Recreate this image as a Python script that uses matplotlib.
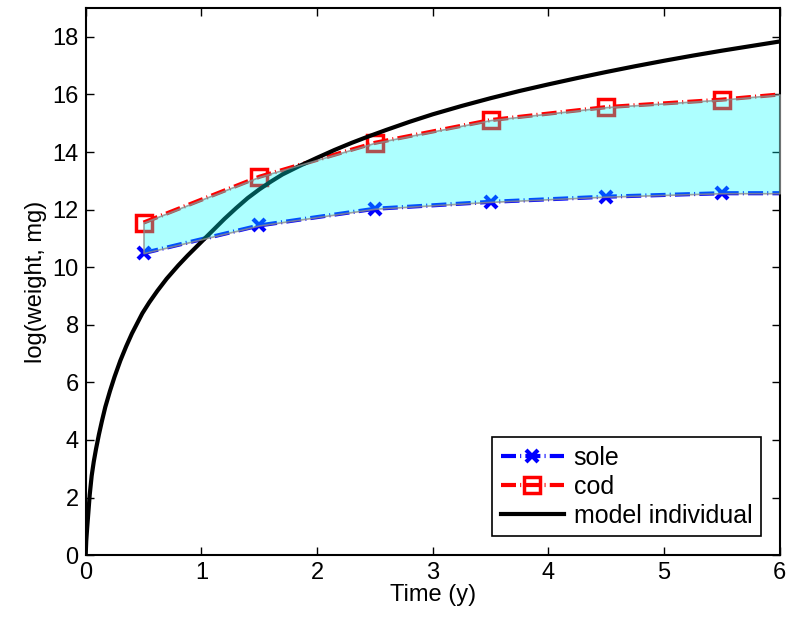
import matplotlib
matplotlib.use("Agg")
import matplotlib.pyplot as plt

plt.rcParams['font.family'] = ['Liberation Sans', 'DejaVu Sans']

# observed log weights (last point is the line end at t=6, no marker)
t_obs = [0.5, 1.5, 2.5, 3.5, 4.5, 5.5, 6.0]
sole = [10.49, 11.45, 12.03, 12.27, 12.45, 12.57, 12.57]
cod = [11.55, 13.14, 14.32, 15.11, 15.56, 15.82, 16.0]

# model individual
t_model = [0.0, 0.005, 0.012, 0.023, 0.035, 0.052, 0.07, 0.09, 0.115, 0.14,
           0.17, 0.21, 0.25, 0.30, 0.35, 0.40, 0.49, 0.55, 0.62, 0.70, 0.80,
           0.88, 0.96, 1.0, 1.1, 1.2, 1.3, 1.4, 1.5, 1.6, 1.7, 1.85, 2.0,
           2.15, 2.3, 2.45, 2.6, 2.8, 3.0, 3.25, 3.5, 3.75, 4.0, 4.25, 4.5,
           4.75, 5.0, 5.25, 5.5, 5.75, 6.0]
w_model = [0.0, 0.5, 0.9, 1.47, 2.1, 2.76, 3.25, 3.7, 4.2, 4.65,
           5.15, 5.7, 6.2, 6.76, 7.25, 7.7, 8.4, 8.78, 9.18, 9.6, 10.06,
           10.4, 10.72, 10.88, 11.28, 11.68, 12.05, 12.4, 12.7, 12.97, 13.22,
           13.52, 13.8, 14.07, 14.32, 14.55, 14.77, 15.05, 15.31, 15.6, 15.87,
           16.12, 16.35, 16.57, 16.78, 16.98, 17.17, 17.35, 17.52, 17.68, 17.84]

fig = plt.figure(figsize=(7.86, 6.21), dpi=100)
ax = fig.add_axes([0.109, 0.106, 0.883, 0.881])

dashdot = (3.6, 1.0, 0.25, 1.0)
ax.plot(t_obs, sole, color='blue', lw=3, dashes=dashdot, marker='x', ms=9,
        mew=3, markevery=list(range(6)), label='sole')
ax.plot(t_obs, cod, color='red', lw=3, dashes=dashdot, marker='s', ms=12,
        mew=2.5, mfc='none', markevery=list(range(6)), label='cod')
ax.plot(t_model, w_model, '-', color='black', lw=3, label='model individual')

# shaded band between sole and cod, drawn on top like the original
ax.fill_between(t_obs, sole, cod, facecolor=(0, 1, 1, 0.32),
                edgecolor=(0.55, 0.55, 0.55, 0.8), lw=1.2, zorder=5)

ax.set_xlim(0, 6)
ax.set_ylim(0, 19)
ax.set_xticks(range(0, 7))
ax.set_yticks(range(0, 19, 2))
ax.tick_params(direction='in', length=6, width=1, labelsize=17, pad=5,
               top=True, right=True)
for s in ax.spines.values():
    s.set_linewidth(1.5)

ax.set_xlabel('Time (y)', fontsize=17, labelpad=0)
ax.set_ylabel('log(weight, mg)', fontsize=17, labelpad=4)

leg = ax.legend(loc='lower right', fontsize=18, fancybox=False,
                edgecolor='black', framealpha=1, handlelength=2.5,
                borderaxespad=0.75, labelspacing=0.2, borderpad=0.35,
                handletextpad=0.4)
leg.get_frame().set_linewidth(1.2)
leg.set_zorder(10)

fig.savefig('out.png', dpi=100)
